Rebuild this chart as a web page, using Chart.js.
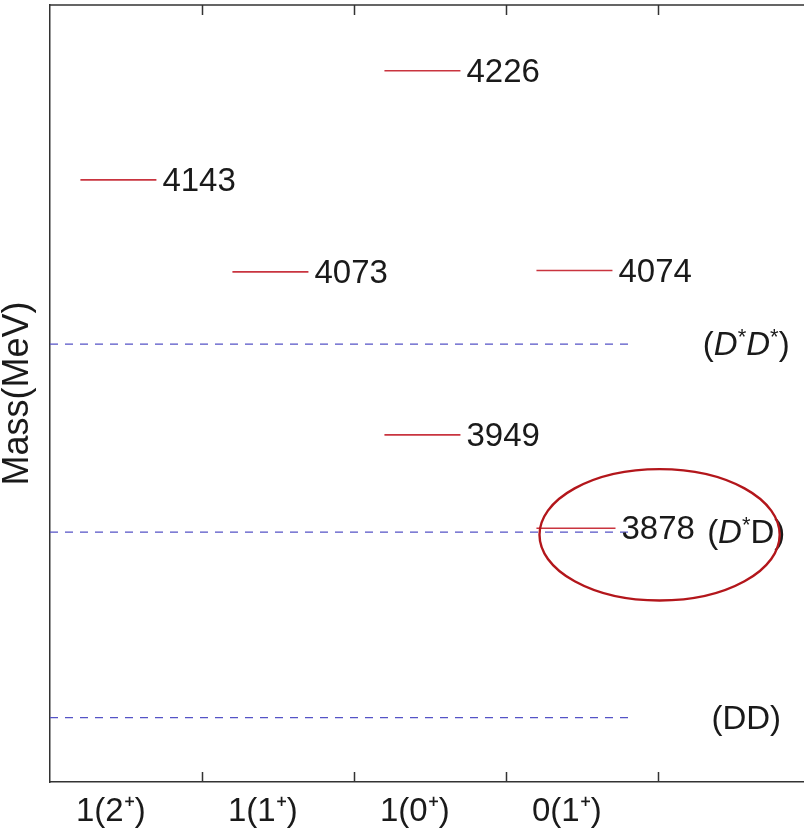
<!DOCTYPE html>
<html>
<head>
<meta charset="utf-8">
<script src="https://cdn.jsdelivr.net/npm/chart.js@4/dist/chart.umd.min.js"></script>
<style>
  html, body { margin: 0; padding: 0; background: #fff; overflow: hidden; }
  #wrap { width: 804px; height: 831px; }
</style>
</head>
<body>
<div id="wrap"><canvas id="c" width="804" height="831"></canvas></div>
<script>
// Quantum-number channels along the horizontal axis
const categories = ['1(2\u207A)', '1(1\u207A)', '1(0\u207A)', '0(1\u207A)'];

// Predicted states: channel index and mass (MeV)
const stateChannel = [0, 1, 2, 2, 3, 3];
const stateMass = [4143, 4073, 4226, 3949, 4074, 3878];

// Two-meson thresholds (MeV)
const thresholdMass = [4018, 3875, 3734];
const thresholdNames = ['D*D*', 'D*D', 'DD'];

// Highlighted state (circled)
const highlightMass = 3878;

const FONT = '"Liberation Sans", Arial, Helvetica, sans-serif';
const levelColor = '#c9343f';
const thresholdColor = '#5553c6';

const datasets = [];
stateChannel.forEach((ch, i) => {
  const span = stateMass[i] === highlightMass ? 0.72 : 0.70;
  datasets.push({
    kind: 'state', mass: stateMass[i],
    data: [{ x: ch + 0.2, y: stateMass[i] }, { x: ch + span, y: stateMass[i] }],
    borderColor: levelColor, borderWidth: 1.6, pointRadius: 0
  });
});
thresholdMass.forEach((m, i) => {
  datasets.push({
    kind: 'threshold', name: thresholdNames[i],
    data: [{ x: 0, y: m }, { x: 3.82, y: m }],
    borderColor: thresholdColor, borderWidth: 1.2, borderDash: [8, 7], pointRadius: 0
  });
});

// Threshold label pieces: italic D for the vector meson, superscript asterisks
const thresholdRich = {
  'D*D*': [['(', 'n'], ['D', 'i'], ['*', 's'], ['D', 'i'], ['*', 's'], [')', 'n']],
  'D*D':  [['(', 'n'], ['D', 'i'], ['*', 's'], ['D', 'n'], [')', 'n']],
  'DD':   [['(', 'n'], ['D', 'n'], ['D', 'n'], [')', 'n']]
};

function segFont(kind) {
  if (kind === 'i') return 'italic 33px ' + FONT;
  if (kind === 's') return '22px ' + FONT;
  return '33px ' + FONT;
}

function drawRich(ctx, segs, cx, cy) {
  let total = 0;
  const widths = segs.map(([t, k]) => { ctx.font = segFont(k); const w = ctx.measureText(t).width; total += w; return w; });
  let x = cx - total / 2;
  segs.forEach(([t, k], j) => {
    ctx.font = segFont(k);
    ctx.textBaseline = 'middle';
    ctx.textAlign = 'left';
    ctx.fillText(t, x, k === 's' ? cy - 8 : cy);
    x += widths[j];
  });
}

const annotate = {
  id: 'annotate',
  afterDatasetsDraw(chart) {
    const ctx = chart.ctx;
    const xs = chart.scales.x, ys = chart.scales.y;
    const area = chart.chartArea;
    ctx.save();
    ctx.fillStyle = '#1a1a1a';

    // state values next to their levels
    chart.data.datasets.forEach((ds, i) => {
      if (ds.kind !== 'state') return;
      const p = chart.getDatasetMeta(i).data[1];
      ctx.font = '33px ' + FONT;
      ctx.textAlign = 'left';
      ctx.textBaseline = 'middle';
      ctx.fillText(String(ds.mass), p.x + 6, p.y + 2);
    });

    // threshold names on the right
    chart.data.datasets.forEach((ds) => {
      if (ds.kind !== 'threshold') return;
      const y = ys.getPixelForValue(ds.data[0].y);
      drawRich(ctx, thresholdRich[ds.name], xs.getPixelForValue(4.58), y + 2);
    });

    // ellipse around the highlighted state
    const cx = xs.getPixelForValue(4.01), cy = ys.getPixelForValue(3873);
    const rx = xs.getPixelForValue(4.01 + 0.79) - cx;
    const ry = cy - ys.getPixelForValue(3873 + 50);
    ctx.beginPath();
    ctx.ellipse(cx, cy, rx, ry, 0, 0, Math.PI * 2);
    ctx.strokeStyle = '#b3161b';
    ctx.lineWidth = 2.4;
    ctx.stroke();

    // top frame line and inward tick marks
    ctx.strokeStyle = '#333';
    ctx.lineWidth = 1.5;
    ctx.beginPath();
    ctx.moveTo(area.left, area.top);
    ctx.lineTo(area.right, area.top);
    for (let k = 1; k <= 4; k++) {
      const px = Math.round(xs.getPixelForValue(k)) + 0.5;
      ctx.moveTo(px, area.bottom);
      ctx.lineTo(px, area.bottom - 10);
      ctx.moveTo(px, area.top);
      ctx.lineTo(px, area.top + 10);
    }
    ctx.stroke();
    ctx.restore();
  }
};

new Chart(document.getElementById('c'), {
  type: 'line',
  data: { datasets },
  plugins: [annotate],
  options: {
    responsive: false,
    animation: false,
    events: [],
    layout: { padding: { top: 5, right: 0, left: 0, bottom: 0 } },
    plugins: { legend: { display: false }, tooltip: { enabled: false } },
    scales: {
      x: {
        type: 'linear', min: 0, max: 4.96,
        afterBuildTicks(scale) {
          scale.ticks = categories.map((c, i) => ({ value: i + 0.4 }));
        },
        afterFit(scale) { scale.height = 49; },
        ticks: {
          callback: (v) => categories[Math.round(v - 0.4)],
          font: { family: FONT, size: 33 },
          color: '#1a1a1a',
          padding: 10,
          maxRotation: 0, autoSkip: false
        },
        grid: { display: false, drawTicks: false },
        border: { display: true, color: '#333', width: 1.5 }
      },
      y: {
        type: 'linear', min: 3685, max: 4276,
        afterFit(scale) { scale.width = 50; },
        ticks: { display: false },
        grid: { display: false, drawTicks: false },
        border: { display: true, color: '#333', width: 1.5 },
        title: {
          display: true, text: 'Mass(MeV)',
          font: { family: FONT, size: 36, lineHeight: 1 },
          color: '#1a1a1a',
          padding: { top: 0, bottom: 0 }
        }
      }
    }
  }
});
</script>
</body>
</html>
